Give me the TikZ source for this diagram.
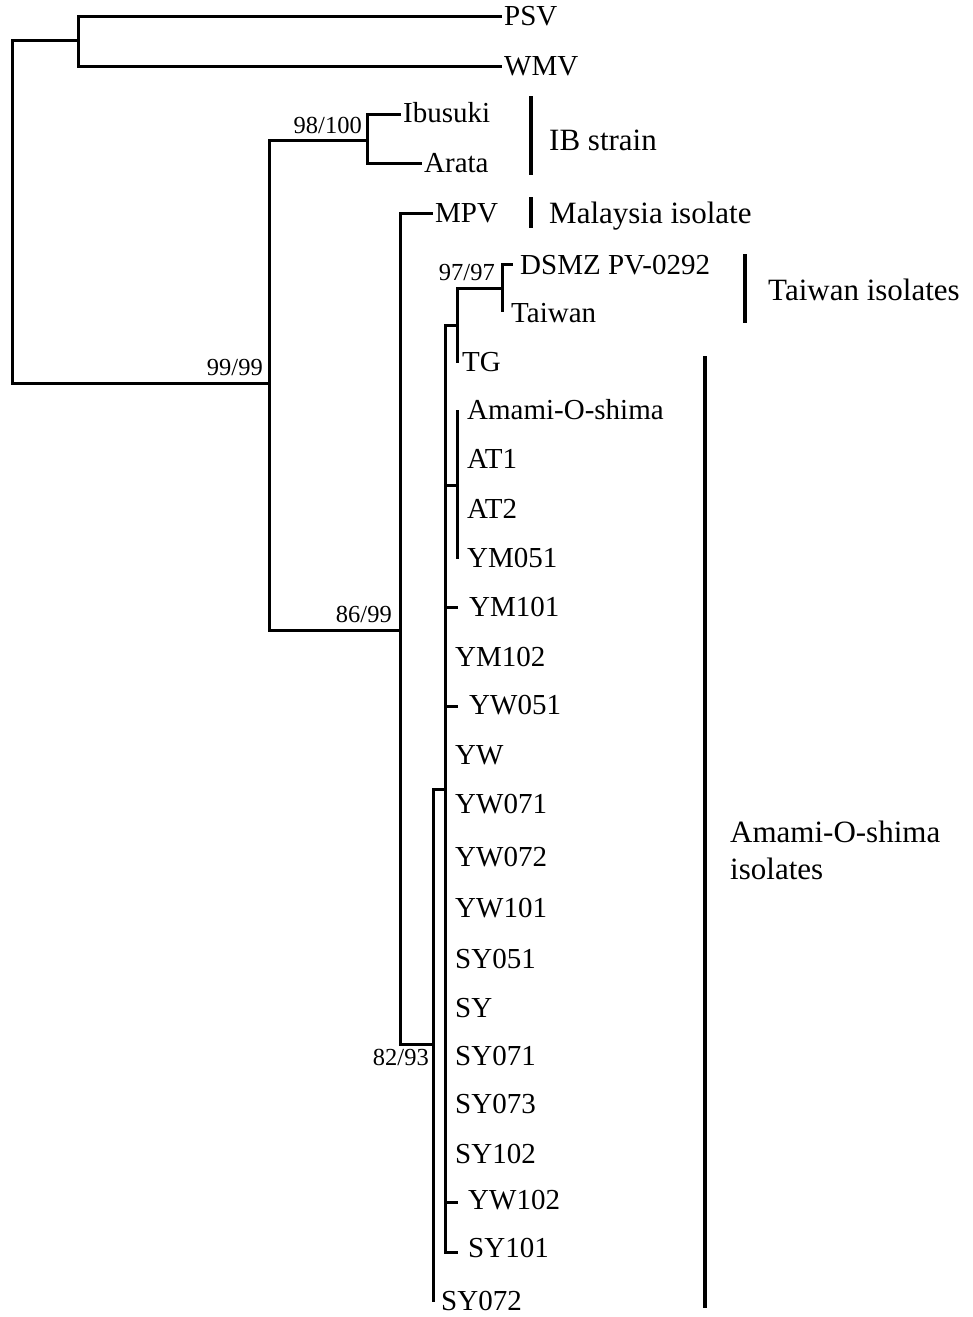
\documentclass[tikz,border=0pt]{standalone}
\usepackage{fontspec}
\setmainfont{Liberation Serif}
\begin{document}
\begin{tikzpicture}[x=1pt,y=-1pt,
  branch/.style={line width=3pt,line join=miter,line cap=butt},
  groupbar/.style={line width=4.5pt},
  leaf/.style={anchor=west,inner sep=0pt,text height=19pt,text depth=0pt,font=\fontsize{29}{34}\selectfont},
  boot/.style={anchor=base east,inner sep=0pt,font=\fontsize{24.5}{29}\selectfont},
  grouplbl/.style={anchor=west,inner sep=0pt,text height=20.5pt,text depth=0pt,font=\fontsize{31}{37}\selectfont}]
\path[use as bounding box] (0,0) rectangle (972,1317);
% internal nodes (x of vertical, y of stem)
\coordinate (root) at (12,211);
\coordinate (nA) at (78,40);
\coordinate (nB) at (269,383);
\coordinate (nC) at (367,140);
\coordinate (nD) at (400,630);
\coordinate (nE) at (433,1044);
\coordinate (nF) at (445,789);
\coordinate (nG) at (457,325);
\coordinate (nH) at (502,288);
\coordinate (nI) at (457,485);
% tips
\coordinate (tPSV) at (502,16);
\coordinate (tWMV) at (502,66);
\coordinate (tIbu) at (401,114);
\coordinate (tAra) at (422,163);
\coordinate (tMPV) at (433,213);
\coordinate (tDSMZ) at (513,264);
\coordinate (tTai) at (502,312);
\coordinate (tTG) at (457,363);
\coordinate (tAmami) at (457,410);
\coordinate (tYM051) at (457,559);
\coordinate (tYM101) at (458,607);
\coordinate (tYW051) at (458,706);
\coordinate (tYW102) at (458,1202);
\coordinate (tSY101) at (458,1252);
\coordinate (tSY072) at (433,1302);
% branches
\draw[branch] (root) |- (nA);
\draw[branch] (root) |- (nB);
\draw[branch] (nA) |- (tPSV);
\draw[branch] (nA) |- (tWMV);
\draw[branch] (nB) |- (nC);
\draw[branch] (nB) |- (nD);
\draw[branch] (nC) |- (tIbu);
\draw[branch] (nC) |- (tAra);
\draw[branch] (nD) |- (tMPV);
\draw[branch] (nD) |- (nE);
\draw[branch] (nE) |- (nF);
\draw[branch] (nE) |- (tSY072);
\draw[branch] (nF) |- (nG);
\draw[branch] (nF) |- (nI);
\draw[branch] (nF) |- (tYM101);
\draw[branch] (nF) |- (tYW051);
\draw[branch] (nF) |- (tYW102);
\draw[branch] (nF) |- (tSY101);
\draw[branch] (nG) |- (nH);
\draw[branch] (nG) |- (tTG);
\draw[branch] (nH) |- (tDSMZ);
\draw[branch] (nH) |- (tTai);
\draw[branch] (nI) |- (tAmami);
\draw[branch] (nI) |- (tYM051);
% leaf labels
\node[leaf] (lPSV) at (504,16) {PSV};
\node[leaf] (lWMV) at (504,66) {WMV};
\node[leaf] (lIbu) at (403,113) {Ibusuki};
\node[leaf] (lAra) at (424,163) {Arata};
\node[leaf] (lMPV) at (435,213) {MPV};
\node[leaf] (lDSMZ) at (520,265) {DSMZ PV-0292};
\node[leaf] (lTai) at (511,313) {Taiwan};
\node[leaf] (lTG) at (462,362) {TG};
\node[leaf] (lAmami) at (467,410) {Amami-O-shima};
\node[leaf] (lAT1) at (467,459) {AT1};
\node[leaf] (lAT2) at (467,509) {AT2};
\node[leaf] (lYM051) at (467,558) {YM051};
\node[leaf] (lYM101) at (469,607) {YM101};
\node[leaf] (lYM102) at (455,657) {YM102};
\node[leaf] (lYW051) at (469,705) {YW051};
\node[leaf] (lYW) at (455,755) {YW};
\node[leaf] (lYW071) at (455,804) {YW071};
\node[leaf] (lYW072) at (455,857) {YW072};
\node[leaf] (lYW101) at (455,908) {YW101};
\node[leaf] (lSY051) at (455,959) {SY051};
\node[leaf] (lSY) at (455,1008) {SY};
\node[leaf] (lSY071) at (455,1056) {SY071};
\node[leaf] (lSY073) at (455,1104) {SY073};
\node[leaf] (lSY102) at (455,1154) {SY102};
\node[leaf] (lYW102) at (468,1200) {YW102};
\node[leaf] (lSY101) at (468,1248) {SY101};
\node[leaf] (lSY072) at (441,1301) {SY072};
% bootstrap values
\node[boot] (b99) at (263,375) {99/99};
\node[boot] (b98) at (362,133) {98/100};
\node[boot] (b86) at (392,622) {86/99};
\node[boot] (b97) at (495,280) {97/97};
\node[boot] (b82) at (429,1065) {82/93};
% group bars and labels
\draw[groupbar] (531,96) -- (531,175);
\node[grouplbl] (gIB) at (549,140) {IB strain};
\draw[groupbar] (531,197) -- (531,228);
\node[grouplbl] (gMal) at (549,213) {Malaysia isolate};
\draw[groupbar] (745,254) -- (745,323);
\node[grouplbl] (gTai) at (768,290) {Taiwan isolates};
\draw[groupbar] (705,356) -- (705,1308);
\node[grouplbl,text height=,text depth=,align=left,anchor=north west] (gAma) at (730,821) {Amami-O-shima\\isolates};
\end{tikzpicture}
\end{document}
